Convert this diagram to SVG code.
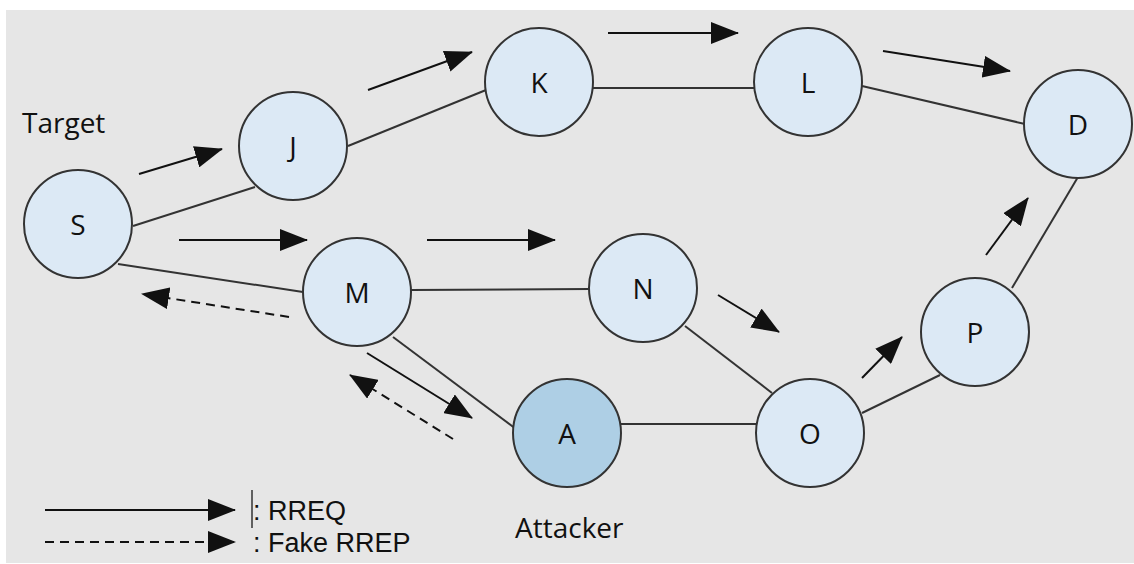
<svg xmlns="http://www.w3.org/2000/svg" width="1134" height="564" viewBox="0 0 1134 564">
<defs>
<marker id="ah" viewBox="0 0 28 22" markerWidth="28" markerHeight="22" refX="27" refY="11" orient="auto" markerUnits="userSpaceOnUse">
<path d="M0,0 L28,11 L0,22 z" fill="#111"/>
</marker>
<style>
.bg{fill:#e6e6e6}
.edge{stroke:#333;stroke-width:2;fill:none}
.msg{stroke:#111;stroke-width:2;fill:none;marker-end:url(#ah)}
.fake{stroke:#111;stroke-width:2;fill:none;stroke-dasharray:9 6;marker-end:url(#ah)}
.node{fill:#dce9f5;stroke:#333;stroke-width:2}
.atk{fill:#aecfe5;stroke:#333;stroke-width:2}
.lbl{font-family:"Open Sans","Liberation Sans",sans-serif;font-size:28px;fill:#111;text-anchor:middle;dominant-baseline:central}
.txt{font-family:"Open Sans","Liberation Sans",sans-serif;font-size:28px;fill:#111}
.leg{font-family:"Liberation Sans",Arial,sans-serif;font-size:27px;fill:#111}
</style>
</defs>
<rect class="bg" x="6" y="10" width="1128" height="553"/>
<g id="connectors">
<line class="edge" x1="133" y1="226" x2="255" y2="187"/>
<line class="edge" x1="118" y1="264" x2="303" y2="292"/>
<line class="edge" x1="348" y1="146" x2="486" y2="90"/>
<line class="edge" x1="592" y1="88" x2="755" y2="88"/>
<line class="edge" x1="862" y1="86" x2="1025" y2="124"/>
<line class="edge" x1="411" y1="290" x2="590" y2="289"/>
<line class="edge" x1="393" y1="337" x2="516" y2="429"/>
<line class="edge" x1="685" y1="326" x2="772" y2="393"/>
<line class="edge" x1="621" y1="424" x2="757" y2="424"/>
<line class="edge" x1="862" y1="413" x2="940" y2="375"/>
<line class="edge" x1="1012" y1="288" x2="1078" y2="177"/>
<line class="msg" x1="139" y1="174" x2="222" y2="149"/>
<line class="msg" x1="179" y1="240" x2="307" y2="240"/>
<line class="msg" x1="368" y1="90" x2="472" y2="52"/>
<line class="msg" x1="608" y1="33" x2="738" y2="33"/>
<line class="msg" x1="883" y1="51" x2="1010" y2="71"/>
<line class="msg" x1="427" y1="240" x2="555" y2="240"/>
<line class="msg" x1="718" y1="295" x2="779" y2="332"/>
<line class="msg" x1="862" y1="378" x2="902" y2="337"/>
<line class="msg" x1="986" y1="255" x2="1028" y2="198"/>
<line class="msg" x1="367" y1="353" x2="472" y2="418"/>
<line class="fake" x1="289" y1="317" x2="142" y2="294"/>
<line class="fake" x1="453" y1="439" x2="350" y2="375"/>
</g>
<g id="S"><circle class="node" cx="78" cy="224" r="54"/><text class="lbl" x="78" y="224">S</text></g>
<g id="J"><circle class="node" cx="293" cy="146" r="54"/><text class="lbl" x="293" y="146">J</text></g>
<g id="K"><circle class="node" cx="539" cy="82" r="54"/><text class="lbl" x="539" y="82">K</text></g>
<g id="L"><circle class="node" cx="808" cy="82" r="54"/><text class="lbl" x="808" y="82">L</text></g>
<g id="D"><circle class="node" cx="1078" cy="124" r="54"/><text class="lbl" x="1078" y="124">D</text></g>
<g id="M"><circle class="node" cx="357" cy="292" r="54"/><text class="lbl" x="357" y="292">M</text></g>
<g id="N"><circle class="node" cx="643" cy="288" r="54"/><text class="lbl" x="643" y="288">N</text></g>
<g id="P"><circle class="node" cx="975" cy="332" r="54"/><text class="lbl" x="975" y="332">P</text></g>
<g id="A"><circle class="atk" cx="567" cy="433" r="54"/><text class="lbl" x="567" y="433">A</text></g>
<g id="O"><circle class="node" cx="810" cy="433" r="54"/><text class="lbl" x="810" y="433">O</text></g>
<g id="labels">
<text class="txt" x="22" y="133">Target</text>
<text class="txt" x="515" y="538">Attacker</text>
</g>
<g id="legend">
<line class="msg" x1="45" y1="510" x2="235" y2="510"/>
<line class="fake" x1="45" y1="542" x2="235" y2="542"/>
<line x1="252" y1="490" x2="252" y2="528" stroke="#333" stroke-width="1.5"/>
<text class="leg" x="253" y="520">: RREQ</text>
<text class="leg" x="253" y="552">: Fake RREP</text>
</g>
</svg>
